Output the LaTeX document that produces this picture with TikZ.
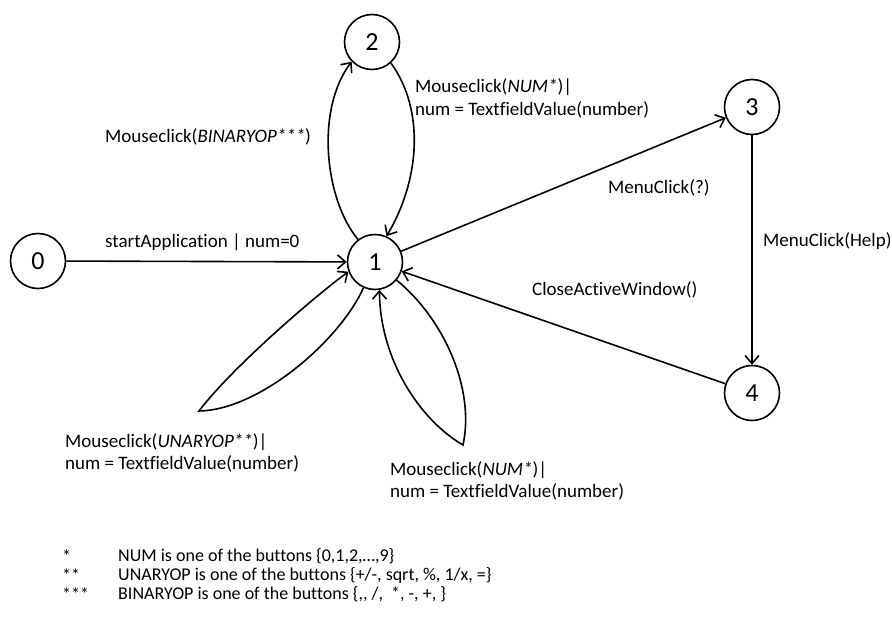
\documentclass[tikz,border=0pt]{standalone}
\usepackage{fontspec}
\setmainfont{Carlito}[Ligatures={NoCommon}]
\usetikzlibrary{arrows.meta}
\begin{document}
\begin{tikzpicture}[x=1pt,y=-1pt,
  state/.style={circle,draw,line width=1.6pt,minimum size=55pt,inner sep=0pt,font=\fontsize{26}{30}\selectfont},
  lab/.style={anchor=west,inner sep=0pt,font=\fontsize{19}{22.5}\selectfont,align=left},
  leg/.style={anchor=west,inner sep=0pt,font=\fontsize{18}{21}\selectfont},
  arr/.style={line width=1.6pt,-{Straight Barb[length=8pt,width=14pt,line width=1.6pt]}}]
\useasboundingbox (0,0) rectangle (892,617);

\node[state] (s0) at (38,261) {0};
\node[state] (s1) at (375,262) {1};
\node[state] (s2) at (372,42) {2};
\node[state] (s3) at (752,107) {3};
\node[state] (s4) at (752,393) {4};

% straight edges
\draw[arr] (s0) -- (s1);
\draw[arr] (s1) -- (s3);
\draw[arr] (s3) -- (s4);
\draw[arr] (s4) -- (s1);

% 1 <-> 2
\draw[arr] (s1.127) .. controls (325,200) and (315,110) .. (s2.224);
\draw[arr] (s2.312) .. controls (425,110) and (420,180) .. (s1.66);

% self loops on 1
\draw[arr] (s1.246) .. controls (340,340) and (260,410) .. (199,411)
  .. controls (230,370) and (310,300) .. (s1.200);
\draw[arr] (s1.320) .. controls (445,320) and (475,390) .. (463,445)
  .. controls (420,420) and (380,360) .. (s1.279);

% labels
\node[lab] (l01) at (105,242) {startApplication | num=0};
\node[lab] (l12) at (105,137) {Mouseclick(\textit{BINARYOP***})};
\node[lab] (l21) at (415,98.5) {Mouseclick(\textit{NUM*})|\\num = TextfieldValue(number)};
\node[lab] (l13) at (608,188) {MenuClick(?)};
\node[lab] (l34) at (763,241) {MenuClick(Help)};
\node[lab] (l41) at (532,290) {CloseActiveWindow()};
\node[lab] (lu) at (65,453) {Mouseclick(\textit{UNARYOP**})|\\num = TextfieldValue(number)};
\node[lab] (ln) at (390,481) {Mouseclick(\textit{NUM*})|\\num = TextfieldValue(number)};

% legend
\node[leg] (k1) at (62,556) {*};
\node[leg] (k2) at (62,575) {**};
\node[leg] (k3) at (62,594) {***};
\node[leg] (t1) at (118,556) {NUM is one of the buttons \{0,1,2,…,9\}};
\node[leg] (t2) at (118,575) {UNARYOP is one of the buttons \{+/-, sqrt, \%, 1/x, =\}};
\node[leg] (t3) at (118,594) {BINARYOP is one of the buttons \{,{}, /, \ *, -, +, \}};
\end{tikzpicture}
\end{document}
